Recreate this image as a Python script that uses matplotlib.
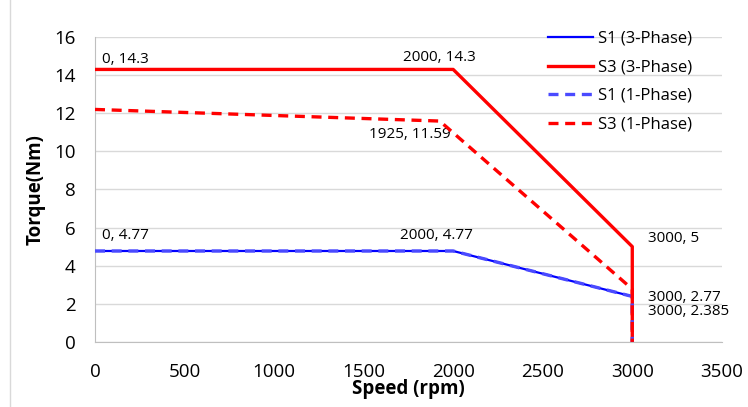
import matplotlib
matplotlib.use("Agg")
import matplotlib.pyplot as plt
from matplotlib.lines import Line2D

plt.rcParams['font.family'] = ['Open Sans', 'DejaVu Sans']

s1_3_x = [0, 2000, 3000, 3000]
s1_3_y = [4.77, 4.77, 2.385, 0]
s3_3_x = [0, 2000, 3000, 3000]
s3_3_y = [14.3, 14.3, 5, 0]
s1_1_x = [0, 2000, 3000, 3000]
s1_1_y = [4.77, 4.77, 2.385, 0]
s3_1_x = [0, 1925, 3000, 3000]
s3_1_y = [12.2, 11.59, 2.77, 0]

labels = ["S1 (3-Phase)", "S3 (3-Phase)", "S1 (1-Phase)", "S3 (1-Phase)"]

fig = plt.figure(figsize=(7.48, 4.07), dpi=100)
fig.add_artist(Line2D([9.5 / 748, 9.5 / 748], [0, 1], transform=fig.transFigure, color="#d9d9d9", lw=1))
ax = fig.add_axes([0.127, 0.160, 0.838, 0.749])

ax.plot(s1_3_x, s1_3_y, color="#0000ff", lw=1.6, label=labels[0], zorder=3)
ax.plot(s3_3_x, s3_3_y, color="#ff0000", lw=2.4, label=labels[1], zorder=3)
ax.plot(s1_1_x, s1_1_y, color="#4a4aff", lw=2.4, ls=(0, (3, 2)), label=labels[2], zorder=4)
ax.plot(s3_1_x, s3_1_y, color="#ff0000", lw=2.4, ls=(0, (3, 2)), label=labels[3], zorder=4)

ax.set_xlim(0, 3500)
ax.set_ylim(0, 16)
ax.set_xticks(range(0, 3501, 500))
ax.set_yticks(range(0, 17, 2))
ax.grid(axis='y', color="#d9d9d9", lw=1)
ax.set_axisbelow(True)
for s in ["top", "right"]:
    ax.spines[s].set_visible(False)
for s in ["left", "bottom"]:
    ax.spines[s].set_color("#bfbfbf")
ax.tick_params(axis='x', length=0, labelsize=13.5, pad=15)
ax.tick_params(axis='y', length=0, labelsize=13.5, pad=14)
ax.set_xlabel("Speed (rpm)", fontsize=13.5, fontweight="bold", labelpad=-1)
ax.set_ylabel("Torque(Nm)", fontsize=13.5, fontweight="bold", labelpad=6)

fs = 11
ax.annotate("0, 14.3", (s3_3_x[0], s3_3_y[0]), xytext=(5, 2), textcoords="offset points", fontsize=fs, ha="left", va="bottom")
ax.annotate("2000, 14.3", (s3_3_x[1], s3_3_y[1]), xytext=(-10, 3), textcoords="offset points", fontsize=fs, ha="center", va="bottom")
ax.annotate("1925, 11.59", (s3_1_x[1], s3_1_y[1]), xytext=(8, -4), textcoords="offset points", fontsize=fs, ha="right", va="top")
ax.annotate("3000, 5", (s3_3_x[2], s3_3_y[2]), xytext=(11, 6), textcoords="offset points", fontsize=fs, ha="left", va="center")
ax.annotate("3000, 2.77", (s3_1_x[2], s3_1_y[2]), xytext=(11, -6), textcoords="offset points", fontsize=fs, ha="left", va="center")
ax.annotate("3000, 2.385", (s1_3_x[2], s1_3_y[2]), xytext=(11, -10.5), textcoords="offset points", fontsize=fs, ha="left", va="center")
ax.annotate("0, 4.77", (s1_3_x[0], s1_3_y[0]), xytext=(5, 6), textcoords="offset points", fontsize=fs, ha="left", va="bottom")
ax.annotate("2000, 4.77", (s1_3_x[1], s1_3_y[1]), xytext=(-12, 6), textcoords="offset points", fontsize=fs, ha="center", va="bottom")

ax.legend(loc="upper left", bbox_to_anchor=(0.722, 1.02), frameon=False, fontsize=12,
          handlelength=2.7, handletextpad=0.3, labelspacing=0.75, borderpad=0, borderaxespad=0)

fig.savefig("out.png", dpi=100)
